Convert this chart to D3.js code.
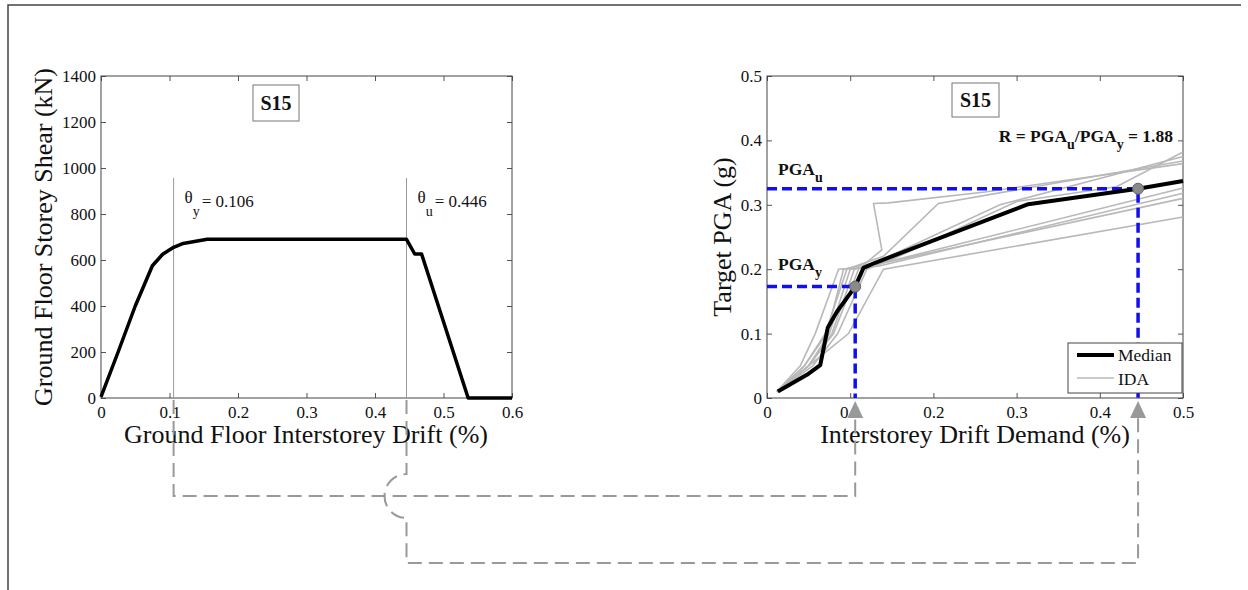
<!DOCTYPE html>
<html>
<head>
<meta charset="utf-8">
<script src="https://cdn.jsdelivr.net/npm/d3@7"></script>
<style>
  body { margin: 0; background: #fff; }
  svg text { font-family: "Liberation Serif", "Times New Roman", serif; fill: #111; }
</style>
</head>
<body>
<script>

// capacity curve (left panel)
var capDrift = [0, 0.025, 0.05, 0.075, 0.09, 0.106, 0.12, 0.155, 0.446, 0.458, 0.468, 0.536, 0.6];
var capShear = [5, 200, 400, 575, 625, 655, 672, 690, 690, 626, 626, 0, 0];

// median IDA curve (right panel)
var medDrift = [0.013, 0.048, 0.064, 0.073, 0.084, 0.106, 0.116, 0.13, 0.314, 0.446, 0.5];
var medPga   = [0.01, 0.036, 0.051, 0.109, 0.134, 0.173, 0.202, 0.21, 0.301, 0.325, 0.337];

// single record IDA curves
var idaDrift = [
  [0.012, 0.05, 0.098, 0.14, 0.5],
  [0.012, 0.04, 0.058, 0.086, 0.112, 0.5],
  [0.012, 0.05, 0.075, 0.1, 0.135, 0.5],
  [0.012, 0.055, 0.085, 0.12, 0.14, 0.5],
  [0.012, 0.05, 0.08, 0.11, 0.138, 0.128, 0.146, 0.262, 0.5],
  [0.012, 0.045, 0.07, 0.096, 0.14, 0.206, 0.5],
  [0.012, 0.05, 0.078, 0.105, 0.15, 0.3, 0.42, 0.5],
  [0.012, 0.045, 0.072, 0.092, 0.13, 0.28, 0.5]
];
var idaPga = [
  [0.01, 0.05, 0.1, 0.2, 0.281],
  [0.01, 0.05, 0.1, 0.2, 0.202, 0.31],
  [0.01, 0.05, 0.1, 0.2, 0.205, 0.318],
  [0.01, 0.05, 0.1, 0.2, 0.21, 0.326],
  [0.01, 0.05, 0.1, 0.2, 0.23, 0.302, 0.303, 0.32, 0.364],
  [0.01, 0.05, 0.1, 0.2, 0.22, 0.302, 0.368],
  [0.01, 0.05, 0.1, 0.2, 0.215, 0.305, 0.328, 0.382],
  [0.01, 0.05, 0.1, 0.2, 0.21, 0.3, 0.375]
];

// yield / ultimate points
var thetaY = 0.106, thetaU = 0.446;
var pgaY = 0.173, pgaU = 0.325;

// ticks
var leftXTicks = [0, 0.1, 0.2, 0.3, 0.4, 0.5, 0.6];
var leftYTicks = [0, 200, 400, 600, 800, 1000, 1200, 1400];
var rightXTicks = [0, 0.1, 0.2, 0.3, 0.4, 0.5];
var rightYTicks = [0, 0.1, 0.2, 0.3, 0.4, 0.5];

var W = 1248, H = 590;
var svg = d3.select("body").append("svg")
    .attr("width", W)
    .attr("height", H);

// outer frame of the figure
svg.append("path")
    .attr("d", "M8,590 V5 H1241")
    .attr("fill", "none")
    .attr("stroke", "#444")
    .attr("stroke-width", 1.5);

// set the ranges
var xL = d3.scaleLinear().domain([0, 0.6]).range([101, 512]);
var yL = d3.scaleLinear().domain([0, 1400]).range([398, 76]);
var xR = d3.scaleLinear().domain([0, 0.5]).range([767, 1183]);
var yR = d3.scaleLinear().domain([0, 0.5]).range([398, 76]);

function fmtDec(d) { return d === 0 ? "0" : d3.format(".1f")(d); }

// matlab style box with inward ticks on all four sides
function drawAxes(x, y, xt, yt, fx, fy) {
  var x0 = x.range()[0], x1 = x.range()[1];
  var y0 = y.range()[0], y1 = y.range()[1];

  var gb = svg.append("g")
      .attr("transform", "translate(0," + y0 + ")")
      .call(d3.axisBottom(x).tickValues(xt).tickSizeInner(-5).tickSizeOuter(0).tickPadding(8).tickFormat(fx));
  var gl = svg.append("g")
      .attr("transform", "translate(" + x0 + ",0)")
      .call(d3.axisLeft(y).tickValues(yt).tickSizeInner(-5).tickSizeOuter(0).tickPadding(5).tickFormat(fy));
  var gt = svg.append("g")
      .attr("transform", "translate(0," + y1 + ")")
      .call(d3.axisTop(x).tickValues(xt).tickSizeInner(-5).tickSizeOuter(0).tickFormat(""));
  var gr = svg.append("g")
      .attr("transform", "translate(" + x1 + ",0)")
      .call(d3.axisRight(y).tickValues(yt).tickSizeInner(-5).tickSizeOuter(0).tickFormat(""));

  [gb, gl, gt, gr].forEach(function(g) {
    g.select(".domain").remove();
    g.selectAll("line").attr("stroke", "#555");
    g.attr("font-family", "Liberation Serif, Times New Roman, serif").attr("font-size", 17);
    g.selectAll("text").attr("fill", "#111");
  });

  svg.append("rect")
      .attr("x", x0).attr("y", y1)
      .attr("width", x1 - x0).attr("height", y0 - y1)
      .attr("fill", "none")
      .attr("stroke", "#444")
      .attr("stroke-width", 1);
}

function titleBox(x, y, w, h, label) {
  svg.append("rect")
      .attr("x", x).attr("y", y).attr("width", w).attr("height", h)
      .attr("fill", "#fff").attr("stroke", "#777").attr("stroke-width", 1);
  svg.append("text")
      .attr("x", x + w / 2).attr("y", y + h / 2 + 7)
      .attr("text-anchor", "middle")
      .attr("font-size", 20).attr("font-weight", "bold")
      .text(label);
}

/** Left panel : capacity curve */
drawAxes(xL, yL, leftXTicks, leftYTicks, fmtDec, d3.format("d"));

// theta lines
[thetaY, thetaU].forEach(function(t) {
  svg.append("line")
      .attr("x1", xL(t)).attr("x2", xL(t))
      .attr("y1", 178).attr("y2", yL(0))
      .attr("stroke", "#999").attr("stroke-width", 1);
});

var capLine = d3.line()
    .x(function(d, i) { return xL(capDrift[i]); })
    .y(function(d, i) { return yL(capShear[i]); });
svg.append("path")
    .datum(capDrift)
    .attr("d", capLine)
    .attr("fill", "none")
    .attr("stroke", "#000")
    .attr("stroke-width", 3.5)
    .attr("stroke-linejoin", "round");

titleBox(253, 85, 46, 36, "S15");

function thetaLabel(x, sub, val) {
  var t = svg.append("text").attr("x", x).attr("y", 203).attr("font-size", 17);
  t.append("tspan").text("θ");
  t.append("tspan").attr("dy", 13).attr("font-size", 14).text(sub);
  t.append("tspan").attr("dy", -9).attr("dx", 2).text("= " + val);
}
thetaLabel(xL(thetaY) + 11, "y", thetaY.toFixed(3));
thetaLabel(xL(thetaU) + 11, "u", thetaU.toFixed(3));

svg.append("text")
    .attr("transform", "translate(52,237) rotate(-90)")
    .attr("text-anchor", "middle")
    .attr("font-size", 26)
    .text("Ground Floor Storey Shear (kN)");
svg.append("text")
    .attr("x", 306).attr("y", 443)
    .attr("text-anchor", "middle")
    .attr("font-size", 26)
    .text("Ground Floor Interstorey Drift (%)");

/** Right panel : IDA curves */
drawAxes(xR, yR, rightXTicks, rightYTicks, fmtDec, fmtDec);

idaDrift.forEach(function(dr, k) {
  var line = d3.line()
      .x(function(d, i) { return xR(dr[i]); })
      .y(function(d, i) { return yR(idaPga[k][i]); });
  svg.append("path")
      .datum(dr)
      .attr("d", line)
      .attr("fill", "none")
      .attr("stroke", "#b8b8b8")
      .attr("stroke-width", 1.6);
});

// blue dashed guides
[[thetaY, pgaY], [thetaU, pgaU]].forEach(function(p) {
  svg.append("path")
      .attr("d", "M" + xR(0) + "," + yR(p[1]) + " H" + xR(p[0]) + " V" + yR(0))
      .attr("fill", "none")
      .attr("stroke", "#1010ee")
      .attr("stroke-width", 3.5)
      .attr("stroke-dasharray", "10,5");
});

var medLine = d3.line()
    .x(function(d, i) { return xR(medDrift[i]); })
    .y(function(d, i) { return yR(medPga[i]); });
svg.append("path")
    .datum(medDrift)
    .attr("d", medLine)
    .attr("fill", "none")
    .attr("stroke", "#000")
    .attr("stroke-width", 4)
    .attr("stroke-linejoin", "round");

svg.selectAll(".pt")
    .data([[thetaY, pgaY], [thetaU, pgaU]])
  .enter().append("circle")
    .attr("class", "pt")
    .attr("cx", function(d) { return xR(d[0]); })
    .attr("cy", function(d) { return yR(d[1]); })
    .attr("r", 5.5)
    .attr("fill", "#8a8a8a")
    .attr("stroke", "#666");

titleBox(952, 83, 47, 34, "S15");

function subLabel(x, y, anchor, parts) {
  var t = svg.append("text").attr("x", x).attr("y", y)
      .attr("text-anchor", anchor)
      .attr("font-size", 17.5).attr("font-weight", "bold");
  var low = false;
  parts.forEach(function(p) {
    var s = t.append("tspan").text(p[0]);
    if (p[1] && !low) { s.attr("dy", 7).attr("font-size", 14); low = true; }
    else if (!p[1] && low) { s.attr("dy", -7); low = false; }
  });
}
subLabel(778, 175, "start", [["PGA"], ["u", true]]);
subLabel(778, 270, "start", [["PGA"], ["y", true]]);
subLabel(1173, 142, "end", [["R = PGA"], ["u", true], ["/PGA"], ["y", true], [" = 1.88"]]);

// legend
var lg = svg.append("g").attr("transform", "translate(1068,343)");
lg.append("rect").attr("width", 114).attr("height", 50)
    .attr("fill", "#fff").attr("stroke", "#444");
lg.append("line").attr("x1", 9).attr("x2", 46).attr("y1", 12).attr("y2", 12)
    .attr("stroke", "#000").attr("stroke-width", 4);
lg.append("line").attr("x1", 9).attr("x2", 46).attr("y1", 35).attr("y2", 35)
    .attr("stroke", "#b8b8b8").attr("stroke-width", 1.6);
lg.append("text").attr("x", 50).attr("y", 18).attr("font-size", 17.5).text("Median");
lg.append("text").attr("x", 50).attr("y", 42).attr("font-size", 17.5).text("IDA");

svg.append("text")
    .attr("transform", "translate(731,237) rotate(-90)")
    .attr("text-anchor", "middle")
    .attr("font-size", 26)
    .text("Target PGA (g)");
svg.append("text")
    .attr("x", 975).attr("y", 443)
    .attr("text-anchor", "middle")
    .attr("font-size", 26)
    .text("Interstorey Drift Demand (%)");

/** grey connectors from left panel to right panel */
var gy1 = 496, gy2 = 563, hop = 22;
var conn = svg.append("g")
    .attr("fill", "none")
    .attr("stroke", "#999")
    .attr("stroke-width", 2)
    .attr("stroke-dasharray", "14,7");
conn.append("path")
    .attr("d", "M" + xL(thetaY) + "," + (yL(0) + 2) + " V" + gy1 + " H" + xR(thetaY) + " V418");
conn.append("path")
    .attr("d", "M" + xL(thetaU) + "," + (yL(0) + 2) + " V" + (gy1 - hop) +
               " A" + hop + "," + hop + " 0 0 0 " + xL(thetaU) + "," + (gy1 + hop) +
               " V" + gy2 + " H" + xR(thetaU) + " V418");

[thetaY, thetaU].forEach(function(t) {
  var cx = xR(t);
  svg.append("path")
      .attr("d", "M" + cx + ",401 L" + (cx - 8) + ",418 L" + (cx + 8) + ",418 Z")
      .attr("fill", "#999");
});

</script>
</body>
</html>
